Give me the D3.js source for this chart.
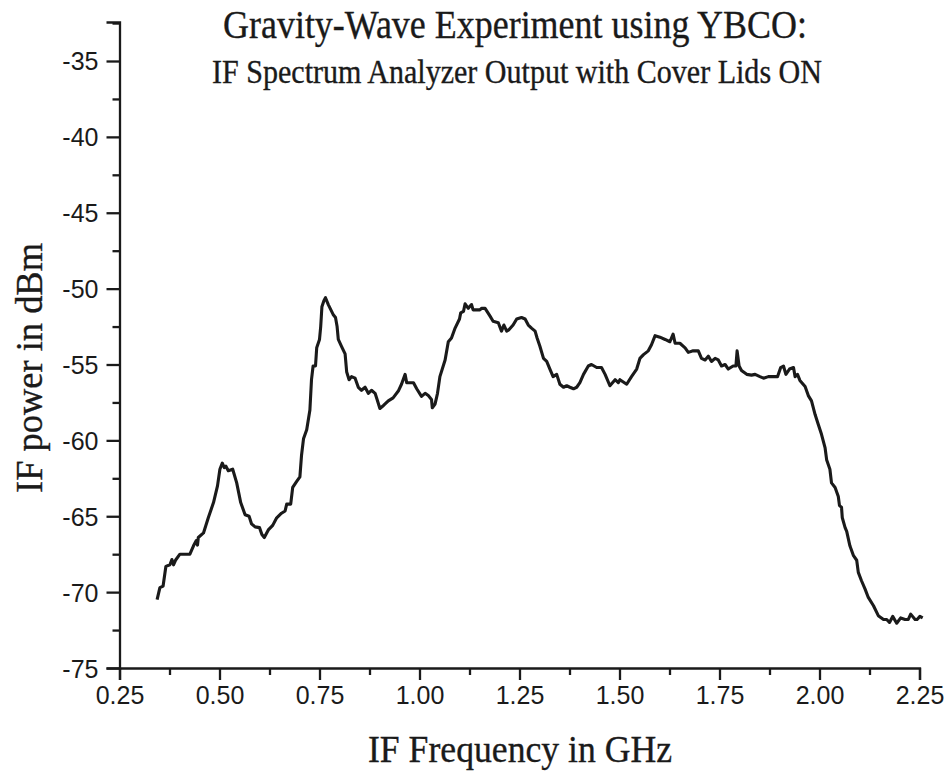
<!DOCTYPE html>
<html><head><meta charset="utf-8">
<script src="https://cdn.jsdelivr.net/npm/d3@7"></script>
<style>body{margin:0;background:#fff;} svg{display:block;}</style>
</head><body>
<svg id="chart" width="950" height="774"></svg>
<script>
const freq = [0.344,0.351,0.359,0.366,0.376,0.381,0.385,0.390,0.401,0.426,0.435,0.442,0.445,0.447,0.460,0.472,0.485,0.495,0.501,0.507,0.512,0.516,0.522,0.533,0.543,0.553,0.564,0.574,0.580,0.589,0.600,0.606,0.612,0.622,0.633,0.643,0.655,0.664,0.668,0.678,0.683,0.693,0.701,0.705,0.710,0.718,0.726,0.730,0.734,0.740,0.743,0.750,0.753,0.756,0.761,0.765,0.772,0.784,0.790,0.794,0.797,0.805,0.814,0.818,0.824,0.830,0.839,0.847,0.855,0.864,0.872,0.880,0.889,0.894,0.901,0.910,0.922,0.934,0.947,0.955,0.964,0.968,0.985,0.993,1.005,1.014,1.022,1.030,1.032,1.039,1.045,1.051,1.064,1.072,1.080,1.089,1.100,1.103,1.110,1.114,1.122,1.130,1.134,1.151,1.155,1.164,1.176,1.184,1.197,1.205,1.211,1.218,1.224,1.234,1.243,1.255,1.264,1.272,1.280,1.289,1.294,1.301,1.310,1.318,1.326,1.334,1.343,1.351,1.360,1.368,1.376,1.385,1.393,1.401,1.410,1.422,1.430,1.443,1.455,1.464,1.476,1.489,1.497,1.501,1.518,1.530,1.543,1.551,1.560,1.572,1.580,1.589,1.601,1.614,1.626,1.634,1.639,1.651,1.664,1.672,1.684,1.697,1.705,1.714,1.722,1.730,1.739,1.747,1.755,1.764,1.772,1.784,1.791,1.794,1.799,1.805,1.818,1.830,1.839,1.851,1.860,1.872,1.885,1.895,1.903,1.910,1.916,1.925,1.935,1.939,1.945,1.951,1.964,1.972,1.980,1.989,1.997,2.005,2.014,2.018,2.026,2.030,2.039,2.047,2.050,2.055,2.057,2.064,2.068,2.076,2.085,2.093,2.097,2.105,2.114,2.122,2.135,2.147,2.160,2.168,2.175,2.183,2.193,2.203,2.214,2.222,2.228,2.239,2.244,2.251,2.258];
const power = [-70.5,-69.7,-69.6,-68.3,-68.2,-67.85,-68.2,-67.9,-67.5,-67.5,-66.95,-66.6,-66.9,-66.4,-66.1,-65.1,-64.1,-63.0,-61.9,-61.5,-61.8,-61.7,-62.0,-61.9,-62.8,-64.1,-64.9,-65.0,-65.5,-65.7,-65.75,-66.2,-66.4,-65.9,-65.6,-65.1,-64.8,-64.65,-64.2,-64.2,-63.1,-62.7,-62.4,-61.0,-59.9,-59.3,-58.0,-56.0,-55.1,-55.1,-53.9,-53.35,-52.5,-51.2,-50.8,-50.6,-51.05,-51.7,-51.9,-52.5,-53.35,-53.8,-54.3,-55.5,-56.0,-55.8,-55.9,-56.5,-56.7,-56.5,-56.9,-56.7,-56.9,-57.3,-57.9,-57.7,-57.4,-57.2,-56.75,-56.3,-55.65,-56.2,-56.2,-56.6,-57.1,-56.9,-57.05,-57.3,-57.85,-57.6,-56.9,-55.8,-54.7,-53.5,-53.25,-52.6,-52.0,-51.6,-51.5,-51.0,-51.3,-51.05,-51.4,-51.4,-51.3,-51.3,-51.8,-52.15,-52.25,-52.8,-52.4,-52.8,-52.7,-52.4,-52.0,-51.9,-52.0,-52.4,-52.6,-52.8,-53.25,-53.8,-54.6,-54.8,-55.3,-55.8,-55.65,-56.3,-56.5,-56.4,-56.5,-56.6,-56.5,-56.2,-55.65,-55.1,-55.0,-55.2,-55.2,-55.65,-56.4,-56.0,-56.2,-56.0,-56.3,-55.8,-55.3,-54.6,-54.35,-54.1,-53.7,-53.1,-53.2,-53.35,-53.5,-53.0,-53.6,-53.6,-53.9,-54.2,-54.1,-54.1,-54.6,-54.7,-54.45,-54.8,-54.6,-54.7,-55.1,-55.0,-55.3,-55.1,-55.1,-54.1,-55.1,-55.4,-55.65,-55.7,-55.65,-55.8,-55.9,-55.8,-55.8,-55.8,-55.2,-55.1,-55.65,-55.3,-55.2,-55.8,-55.65,-56.05,-56.45,-57.05,-57.4,-58.3,-58.95,-59.6,-60.5,-61.3,-61.9,-62.8,-63.1,-63.7,-64.3,-64.4,-65.1,-65.75,-66.0,-66.95,-67.6,-67.9,-68.7,-69.25,-69.8,-70.35,-70.9,-71.55,-71.8,-71.8,-72.0,-71.6,-72.05,-71.7,-71.8,-71.8,-71.45,-71.8,-71.8,-71.6,-71.7];
const xTicks = [0.25,0.50,0.75,1.00,1.25,1.50,1.75,2.00,2.25];
const yTicks = [-75,-70,-65,-60,-55,-50,-45,-40,-35];
const titleText = "Gravity-Wave Experiment using YBCO:";
const subtitleText = "IF Spectrum Analyzer Output with Cover Lids ON";
const xLabel = "IF Frequency in GHz";
const yLabel = "IF power in dBm";

const svg = d3.select("#chart");
const x = d3.scaleLinear().domain([0.25, 2.25]).range([119.5, 919.5]);
const y = d3.scaleLinear().domain([-75, -32.43]).range([668, 22]);

const xMinor = d3.range(0.375, 2.25, 0.25);
const yMinor = d3.range(-72.5, -32.4, 5);

const gx = svg.append("g").attr("transform", "translate(0,668)");
gx.append("g").call(d3.axisBottom(x).tickValues(xMinor).tickSize(7).tickFormat(""))
  .call(g => g.select(".domain").remove());
gx.append("g").call(d3.axisBottom(x).tickValues(xTicks).tickSize(12).tickPadding(6).tickFormat(d => d.toFixed(2)));

const gy = svg.append("g").attr("transform", "translate(119.5,0)");
gy.append("g").call(d3.axisLeft(y).tickValues(yMinor).tickSize(7).tickFormat(""))
  .call(g => g.select(".domain").remove());
gy.append("g").call(d3.axisLeft(y).tickValues(yTicks).tickSize(13).tickPadding(8).tickFormat(d => String(d)));

svg.selectAll(".domain").attr("stroke", "#1a1a1a").attr("stroke-width", 2.3);
svg.selectAll(".tick line").attr("stroke", "#1a1a1a").attr("stroke-width", 2.3);
svg.selectAll(".tick text").attr("fill", "#1a1a1a")
  .attr("font-family", "'Liberation Sans', Arial, sans-serif").attr("font-size", 25)
  .style("font-family", "'Liberation Sans', Arial, sans-serif").style("font-size", "25px");
gy.selectAll(".tick text").attr("dy", "0.36em");
gx.selectAll(".tick text").attr("dy", "0.71em");

const pts = freq.map((f, i) => [f, power[i]]);
svg.append("path").datum(pts)
  .attr("fill", "none").attr("stroke", "#1a1a1a").attr("stroke-width", 3.1)
  .attr("stroke-linejoin", "round")
  .attr("d", d3.line().x(d => x(d[0])).y(d => y(d[1])));

const serif = "'Liberation Serif', 'Times New Roman', serif";
function serifText(t) {
  return t.style("font-family", serif).attr("fill", "#1a1a1a")
    .attr("stroke", "#1a1a1a").attr("stroke-width", 0.35);
}
serifText(svg.append("text").attr("x", 515).attr("y", 38).attr("text-anchor", "middle")
  .attr("textLength", 584).attr("lengthAdjust", "spacingAndGlyphs")
  .style("font-size", "39px")).text(titleText);
serifText(svg.append("text").attr("x", 517).attr("y", 83).attr("text-anchor", "middle")
  .attr("textLength", 610).attr("lengthAdjust", "spacingAndGlyphs")
  .style("font-size", "33px")).text(subtitleText);
serifText(svg.append("text").attr("x", 520).attr("y", 762).attr("text-anchor", "middle")
  .attr("textLength", 304).attr("lengthAdjust", "spacingAndGlyphs")
  .style("font-size", "38px")).text(xLabel);
serifText(svg.append("text").attr("transform", "translate(42,368) rotate(-90)").attr("text-anchor", "middle")
  .attr("textLength", 250).attr("lengthAdjust", "spacingAndGlyphs")
  .style("font-size", "38px")).text(yLabel);
</script>
</body></html>
